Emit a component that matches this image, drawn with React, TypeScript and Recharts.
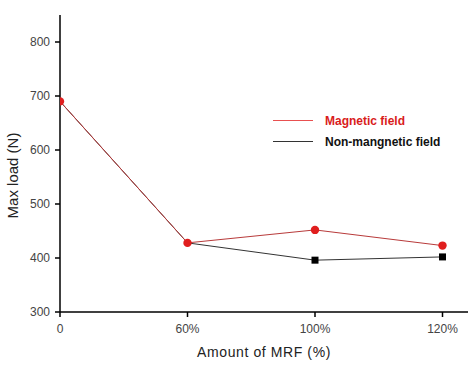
import React from "react";
import { LineChart, Line, XAxis, YAxis, Legend, Label } from "recharts";

const categories = ["0", "60%", "100%", "120%"];
const magnetic = [690, 428, 452, 423];
const nonMagnetic = [690, 428, 396, 402];
const yTicks = [300, 400, 500, 600, 700, 800];

const data = categories.map((c, i) => ({ x: i, cat: c, mag: magnetic[i], non: nonMagnetic[i] }));

const FONT = "'Liberation Sans', Arial, sans-serif";

const RedDot = (props: any) => {
  const { cx, cy, index } = props;
  if (cx == null || cy == null) return null;
  return <circle key={`r${index}`} cx={cx} cy={cy} r={4.2} fill="#e01e1e" />;
};

const BlackSquare = (props: any) => {
  const { cx, cy, index, payload } = props;
  if (cx == null || cy == null || (payload && payload.non === payload.mag)) return <g key={`b${index}`} />;
  return <rect key={`b${index}`} x={cx - 3.5} y={cy - 3.5} width={7} height={7} fill="#000" />;
};

const LegendContent = () => (
  <div style={{ fontFamily: FONT, fontWeight: "bold", fontSize: 12 }}>
    <div style={{ display: "flex", alignItems: "center", height: 21 }}>
      <div style={{ width: 40, height: 1, background: "#e85050", marginRight: 12 }} />
      <span style={{ color: "#d91c1c" }}>Magnetic field</span>
    </div>
    <div style={{ display: "flex", alignItems: "center", height: 21 }}>
      <div style={{ width: 40, height: 1, background: "#333", marginRight: 12 }} />
      <span style={{ color: "#111" }}>Non-mangnetic field</span>
    </div>
  </div>
);

export default function App() {
  return (
    <div style={{ position: "absolute", left: 0, top: 0, background: "#fff" }}>
      <LineChart width={468} height={370} data={data} margin={{ top: 15, right: 0, bottom: 28, left: 0 }}>
        <XAxis
          dataKey="x"
          type="number"
          domain={[0, 3.2]}
          ticks={[0, 1, 2, 3]}
          tickFormatter={(v: number) => categories[v]}
          height={30}
          axisLine={{ stroke: "#000", strokeWidth: 1.5 }}
          tickLine={{ stroke: "#000", strokeWidth: 1.5 }}
          tickSize={5}
          tickMargin={7}
          tick={{ fill: "#444", fontSize: 12, fontFamily: FONT }}
          allowDataOverflow
        >
          <Label value="Amount of MRF (%)" position="bottom" offset={5} style={{ fill: "#222", fontSize: 14, letterSpacing: 0.6, fontFamily: FONT }} />
        </XAxis>
        <YAxis
          type="number"
          domain={[300, 850]}
          ticks={yTicks}
          width={60}
          axisLine={{ stroke: "#000", strokeWidth: 1.5 }}
          tickLine={{ stroke: "#000", strokeWidth: 1.5 }}
          tickSize={5}
          tickMargin={5}
          tick={{ fill: "#444", fontSize: 12, fontFamily: FONT }}
          allowDataOverflow
        >
          <Label value="Max load (N)" angle={-90} position="insideLeft" offset={13} dy={12} style={{ fill: "#222", fontSize: 15, fontFamily: FONT, textAnchor: "middle" }} />
        </YAxis>
        <Legend
          content={<LegendContent />}
          layout="vertical"
          verticalAlign="middle"
          align="center"
          wrapperStyle={{ left: 273, top: 110, width: 190 }}
        />
        <Line
          dataKey="non"
          stroke="#333"
          strokeWidth={1}
          dot={<BlackSquare />}
          isAnimationActive={false}
        />
        <Line
          dataKey="mag"
          stroke="#b83a3a"
          strokeWidth={1}
          dot={<RedDot />}
          isAnimationActive={false}
        />
      </LineChart>
    </div>
  );
}
